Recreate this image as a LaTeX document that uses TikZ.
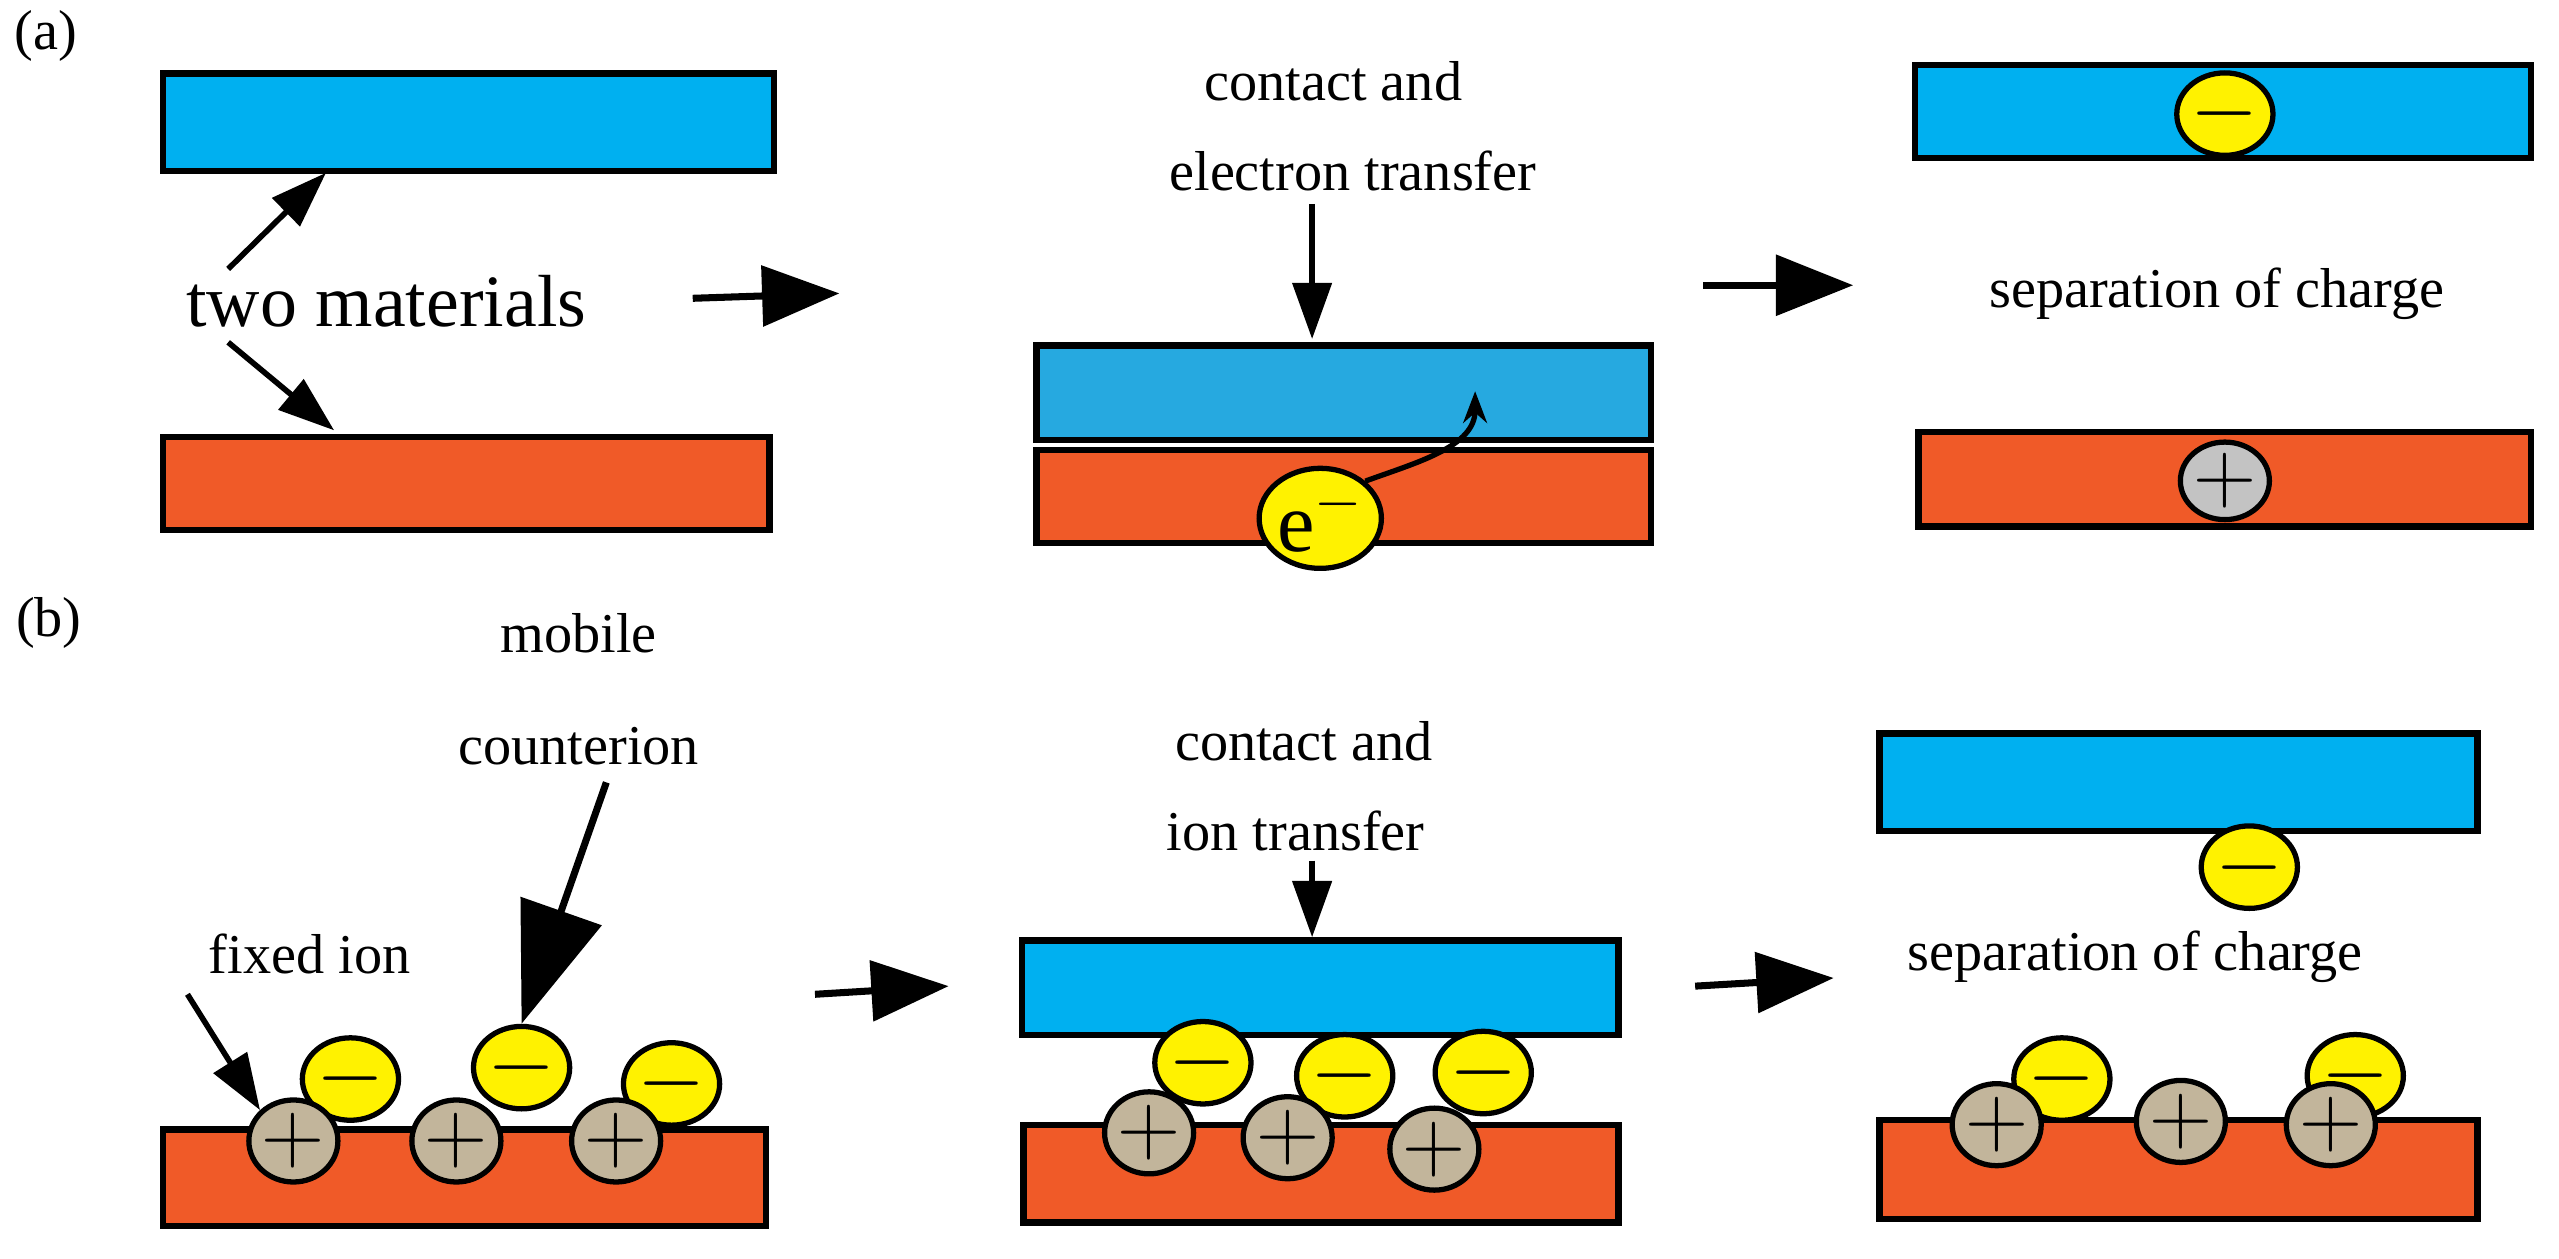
\documentclass[tikz,border=0pt]{standalone}
\usepackage{fontspec}
\setmainfont{Liberation Serif}
\usetikzlibrary{arrows.meta,shapes.geometric}
\definecolor{cblue}{RGB}{0,176,240}
\definecolor{cblue2}{RGB}{38,169,224}
\definecolor{corange}{RGB}{240,90,40}
\definecolor{cyel}{RGB}{255,242,0}
\definecolor{cgray}{RGB}{195,195,195}
\definecolor{ctan}{RGB}{194,181,155}
\begin{document}
\begin{tikzpicture}[x=0.0163cm,y=-0.0163cm,
 blk/.style={draw=black,line width=1.8pt},
 arr/.style={-{Triangle[length=22pt,width=17pt]},line width=2pt},
 sarr/.style={-{Triangle[length=16pt,width=11pt]},line width=1.6pt},
 ion/.style={ellipse,draw,minimum width=0.68cm,minimum height=0.82cm,inner sep=0pt,line width=1.5pt,font=\fontsize{24}{24}\selectfont},
 negion/.style={ion,fill=cyel},
 posion/.style={ion,fill=ctan},
 lab/.style={font=\fontsize{16}{20}\selectfont,align=center},
 big/.style={font=\fontsize{21}{24}\selectfont}]
\useasboundingbox (0,0) rectangle (1570,772);
\node[lab] (la) at (28,22) {(a)};
\node[lab] (lb) at (30,382) {(b)};
% a1
\draw[blk,fill=cblue] (100,45) rectangle (475,105);
\draw[blk,fill=corange] (100,268) rectangle (472,325);
\node[big] (two) at (237,185) {two materials};
\coordinate (t1) at (200,106); \coordinate (t2) at (205,264);
\draw[sarr] (140,165) -- (t1);
\draw[sarr] (140,210) -- (t2);
\draw[arr] (425,183) -- (515,180);
% a2
\node[lab] (ca) at (818,50) {contact and};
\node[lab] (et) at (830,105) {electron transfer};
\draw[sarr] (805,125) -- (805,208);
\draw[blk,fill=cblue2] (636,212) rectangle (1013,270);
\draw[blk,fill=corange] (636,276) rectangle (1013,333);
\node[ion,fill=cyel,minimum width=0.85cm,minimum height=1cm] (e) at (810,318) {e$^{-}$};
\draw[-{Stealth[length=9pt]},line width=1.5pt] (e.north east) to[out=20,in=-90] (905,240);
\draw[arr] (1045,175) -- (1137,175);
% a3
\draw[blk,fill=cblue] (1175,40) rectangle (1553,97);
\node[negion,minimum width=0.6cm,minimum height=0.75cm] (n1) at (1365,70) {$-$};
\node[lab] (sep1) at (1360,180) {separation of charge};
\draw[blk,fill=corange] (1177,265) rectangle (1553,323);
\node[posion,fill=cgray,minimum width=0.6cm,minimum height=0.75cm] (p1) at (1365,295) {$+$};
% b1
\node[lab] (mob) at (355,423) {mobile\\[12pt]counterion};
\node[lab] (fix) at (190,585) {fixed ion};
\draw[blk,fill=corange] (100,693) rectangle (470,752);
\node[negion] (b1n1) at (215,662) {$-$};
\node[negion] (b1n2) at (320,655) {$-$};
\node[negion] (b1n3) at (412,665) {$-$};
\node[posion] (b1p1) at (180,700) {$+$};
\node[posion] (b1p2) at (280,700) {$+$};
\node[posion] (b1p3) at (378,700) {$+$};
\draw[sarr] (115,610) -- (b1p1.north west);
\draw[-{Triangle[length=34pt,width=24pt]},line width=2pt] (372,480) -- (b1n2.north);
\draw[arr] (500,610) -- (582,605);
% b2
\node[lab] (ca2) at (800,455) {contact and};
\node[lab] (it) at (795,510) {ion transfer};
\draw[sarr] (805,528) -- (805,575);
\draw[blk,fill=cblue] (627,577) rectangle (993,635);
\draw[blk,fill=corange] (628,690) rectangle (993,750);
\node[negion] (b2n1) at (738,652) {$-$};
\node[negion] (b2n2) at (825,660) {$-$};
\node[negion] (b2n3) at (910,658) {$-$};
\node[posion] (b2p1) at (705,695) {$+$};
\node[posion] (b2p2) at (790,698) {$+$};
\node[posion] (b2p3) at (880,705) {$+$};
\draw[arr] (1040,605) -- (1125,600);
% b3
\draw[blk,fill=cblue] (1153,450) rectangle (1520,510);
\node[negion] (b3n0) at (1380,532) {$-$};
\node[lab] (sep2) at (1310,587) {separation of charge};
\draw[blk,fill=corange] (1153,687) rectangle (1520,748);
\node[negion] (b3n1) at (1265,662) {$-$};
\node[negion] (b3n2) at (1445,660) {$-$};
\node[posion] (b3p1) at (1225,690) {$+$};
\node[posion] (b3p2) at (1338,688) {$+$};
\node[posion] (b3p3) at (1430,690) {$+$};
\end{tikzpicture}
\end{document}
